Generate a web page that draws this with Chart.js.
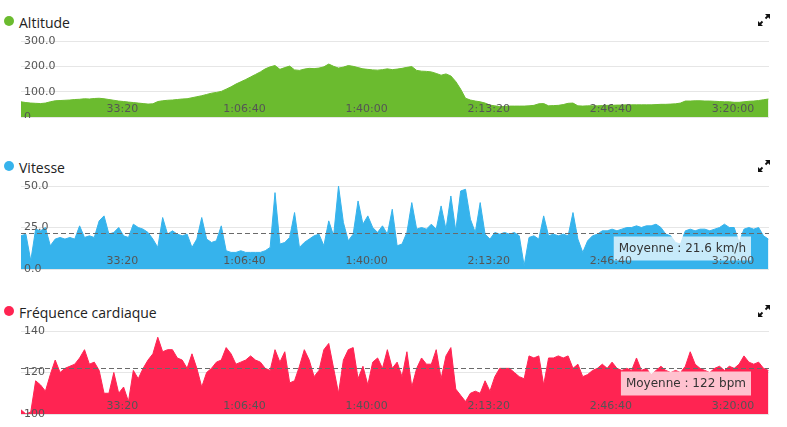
<!DOCTYPE html>
<html>
<head>
<meta charset="utf-8">
<script src="https://cdn.jsdelivr.net/npm/chart.js@4.4.1/dist/chart.umd.min.js"></script>
<style>
  body { margin: 0; background: #fff; width: 787px; height: 427px; position: relative; overflow: hidden; }
  .title { position: absolute; left: 0; height: 16px; line-height: 16px; font: 14px 'Open Sans', sans-serif; color: #222; }
  .title .dot { position: absolute; left: 4px; top: 3px; width: 10px; height: 10px; border-radius: 50%; }
  .title .txt { position: absolute; left: 19px; white-space: nowrap; }
  .expand { position: absolute; left: 757px; width: 14px; height: 14px; }
  canvas { position: absolute; left: 0; }
</style>
</head>
<body>

<div class="title" style="top:13px"><div class="dot" style="background:#6bbb2f"></div><span class="txt">Altitude</span></div>
<svg class="expand" style="top:13px" viewBox="0 0 14 14"><path d="M8 1h5v5z M1 8v5h5z" fill="#111"/><path d="M8.5 5.5L12 2M5.5 8.5L2 12" stroke="#111" stroke-width="1.8"/></svg>
<canvas id="altitudeChart" width="787" height="88" style="top:30px"></canvas>

<div class="title" style="top:158px"><div class="dot" style="background:#36b3ec"></div><span class="txt">Vitesse</span></div>
<svg class="expand" style="top:159px" viewBox="0 0 14 14"><path d="M8 1h5v5z M1 8v5h5z" fill="#111"/><path d="M8.5 5.5L12 2M5.5 8.5L2 12" stroke="#111" stroke-width="1.8"/></svg>
<canvas id="speedChart" width="787" height="100" style="top:175px"></canvas>

<div class="title" style="top:303px"><div class="dot" style="background:#ff2452"></div><span class="txt">Fréquence cardiaque</span></div>
<svg class="expand" style="top:304px" viewBox="0 0 14 14"><path d="M8 1h5v5z M1 8v5h5z" fill="#111"/><path d="M8.5 5.5L12 2M5.5 8.5L2 12" stroke="#111" stroke-width="1.8"/></svg>
<canvas id="heartChart" width="787" height="100" style="top:320px"></canvas>

<script>
// samples every 80 s, from 340 s to the end of the ride
const startSec = 340;
const stepSec = 80;
const endSec = 12590;

const xTickValues = [2000, 4000, 6000, 8000, 10000, 12000];
const xTickLabels = ['33:20', '1:06:40', '1:40:00', '2:13:20', '2:46:40', '3:20:00'];

const altitude = [
    60, 57, 55, 54, 53, 55, 60, 64, 65, 66,
    67, 69, 70, 72, 71, 73, 74, 72, 69, 66,
    63, 61, 59, 57, 55, 53, 51, 52, 61, 64,
    66, 67, 69, 71, 72, 76, 80, 84, 89, 94,
    97, 101, 110, 119, 130, 139, 148, 158, 168, 178,
    190, 198, 203, 188, 195, 201, 186, 184, 189, 192,
    191, 193, 198, 209, 200, 193, 197, 203, 200, 195,
    190, 188, 186, 185, 187, 190, 187, 189, 192, 196,
    199, 184, 181, 180, 178, 172, 165, 170, 162, 140,
    110, 74, 67, 63, 60, 55, 47, 44, 41, 42,
    43, 43, 43, 43, 44, 46, 52, 53, 44, 45,
    46, 49, 54, 55, 44, 43, 44, 44, 44, 45,
    46, 46, 47, 47, 48, 48, 48, 48, 48, 48,
    49, 50, 50, 51, 52, 55, 63, 63, 64, 64,
    63, 63, 62, 61, 60, 60, 58, 58, 60, 62,
    63, 65, 68, 71
];
const altitudeTicks = [0, 100, 200, 300];
const altitudeTickLabels = ['0', '100.0', '200.0', '300.0'];

const speed = [
    20, 21, 5, 24, 23, 25, 14, 18, 19, 18,
    19, 18, 26, 19, 20, 19, 29, 32, 21, 22,
    25, 20, 19, 27, 25, 24, 22, 18, 13, 31,
    21, 23, 21, 20, 21, 13, 18, 31, 18, 16,
    17, 26, 11, 10, 10, 11, 10, 10, 10, 10,
    11, 13, 46, 15, 16, 19, 34, 13, 16, 18,
    20, 21, 14, 29, 20, 50, 28, 17, 21, 41,
    27, 32, 25, 22, 26, 21, 36, 14, 15, 22,
    40, 24, 25, 24, 27, 24, 38, 24, 44, 23,
    47, 48, 30, 22, 40, 21, 18, 22, 21, 22,
    21, 22, 20, 2, 19, 20, 18, 32, 20, 21,
    20, 21, 20, 34, 18, 10, 17, 20, 21, 23,
    23, 24, 23, 24, 25, 25, 26, 25, 26, 26,
    27, 25, 21, 20, 16, 15, 23, 24, 23, 24,
    24, 23, 24, 25, 27, 25, 25, 16, 24, 25,
    24, 25, 20, 18
];
const speedTicks = [0, 25, 50];
const speedTickLabels = ['0.0', '25.0', '50.0'];
const speedAverage = 21.6;

const heartRate = [
    102, 100, 101, 116, 114, 111, 119, 126, 120, 122,
    123, 124, 127, 131, 124, 125, 121, 110, 110, 120,
    110, 113, 106, 121, 117, 122, 126, 129, 137, 130,
    131, 131, 127, 126, 122, 129, 122, 113, 120, 122,
    125, 126, 132, 129, 124, 125, 126, 128, 126, 125,
    122, 121, 131, 125, 130, 115, 116, 123, 131, 126,
    118, 121, 131, 134, 122, 110, 126, 131, 132, 117,
    123, 114, 125, 127, 122, 131, 122, 125, 118, 130,
    113, 122, 127, 124, 124, 131, 117, 128, 132, 112,
    109, 106, 110, 111, 110, 116, 111, 118, 122, 122,
    122, 120, 118, 117, 128, 127, 128, 114, 127, 127,
    128, 127, 128, 122, 124, 118, 119, 121, 122, 124,
    122, 125, 122, 121, 122, 121, 127, 121, 122, 119,
    121, 123, 121, 120, 121, 120, 123, 130, 124, 122,
    121, 120, 122, 123, 121, 123, 122, 124, 128, 125,
    124, 125, 122, 121
];
const heartTicks = [100, 120, 140];
const heartTickLabels = ['100', '120', '140'];
const heartAverage = 122;

const sampleTimes = altitude.map((v, i) => startSec + i * stepSec);

// dashed average line + "Moyenne" box
const averageLine = {
    id: 'averageLine',
    afterDatasetsDraw(chart, args, opts) {
        const { ctx, chartArea } = chart;
        const y = Math.round(chart.scales.y.getPixelForValue(opts.value)) + 0.5;
        ctx.save();
        ctx.strokeStyle = '#6a6a6a';
        ctx.lineWidth = 1;
        ctx.setLineDash([5, 3]);
        ctx.beginPath();
        ctx.moveTo(chartArea.left, y);
        ctx.lineTo(chartArea.right, y);
        ctx.stroke();
        ctx.setLineDash([]);
        ctx.font = '12px "DejaVu Sans"';
        const w = ctx.measureText(opts.label).width + 10;
        const bx = chartArea.right - 18 - w;
        ctx.fillStyle = opts.boxColor;
        ctx.fillRect(bx, y + 3, w, 24);
        ctx.fillStyle = '#333';
        ctx.textBaseline = 'middle';
        ctx.fillText(opts.label, bx + 5, y + 15);
        ctx.restore();
    }
};

const tickFont = { family: "'DejaVu Sans', sans-serif", size: 11 };

// keep the mirrored axes from reserving room for their labels
function noPadding(scale) {
    scale.paddingTop = 0;
    scale.paddingBottom = 0;
    scale.paddingLeft = 0;
    scale.paddingRight = 0;
}

function makeChart(id, values, color, yMin, yMax, yTicks, yLabels, bottomPad, average) {
    const ctx = document.getElementById(id).getContext('2d');
    return new Chart(ctx, {
        type: 'line',
        data: {
            datasets: [{
                data: values.map((v, i) => ({ x: sampleTimes[i], y: v })),
                backgroundColor: color,
                borderColor: color,
                borderWidth: 1,
                fill: 'start',
                pointRadius: 0,
                tension: 0
            }]
        },
        plugins: average ? [averageLine] : [],
        options: {
            responsive: false,
            animation: false,
            events: [],
            layout: {
                autoPadding: false,
                padding: { left: 18, right: 18, top: 11, bottom: bottomPad }
            },
            plugins: {
                legend: { display: false },
                tooltip: { enabled: false },
                averageLine: average || {}
            },
            scales: {
                x: {
                    type: 'linear',
                    min: startSec,
                    max: endSec,
                    grid: { display: false, drawTicks: false },
                    border: { display: false },
                    afterBuildTicks: scale => { scale.ticks = xTickValues.map(v => ({ value: v })); },
                    afterFit: scale => { noPadding(scale); scale.height = 1; },
                    ticks: {
                        z: 1,
                        mirror: true,
                        padding: 1,
                        maxRotation: 0,
                        autoSkip: false,
                        color: '#555',
                        font: tickFont,
                        callback: (v, i) => xTickLabels[i]
                    }
                },
                y: {
                    min: yMin,
                    max: yMax,
                    grid: { color: '#e6e6e6', drawTicks: false },
                    border: { display: false },
                    afterBuildTicks: scale => { scale.ticks = yTicks.map(v => ({ value: v })); },
                    afterFit: scale => { noPadding(scale); scale.width = 3; },
                    ticks: {
                        z: 1,
                        mirror: true,
                        padding: 3,
                        color: '#555',
                        font: tickFont,
                        callback: (v, i) => yLabels[i]
                    }
                }
            }
        }
    });
}

makeChart('altitudeChart', altitude, '#6bbb2f', 0, 300, altitudeTicks, altitudeTickLabels, 0, null);
makeChart('speedChart', speed, '#36b3ec', 0, 50, speedTicks, speedTickLabels, 5,
    { value: speedAverage, label: 'Moyenne : 21.6 km/h', boxColor: 'rgba(255,255,255,0.72)' });
makeChart('heartChart', heartRate, '#ff2452', 100, 140, heartTicks, heartTickLabels, 5,
    { value: heartAverage, label: 'Moyenne : 122 bpm', boxColor: 'rgba(255,255,255,0.72)' });
</script>
</body>
</html>
